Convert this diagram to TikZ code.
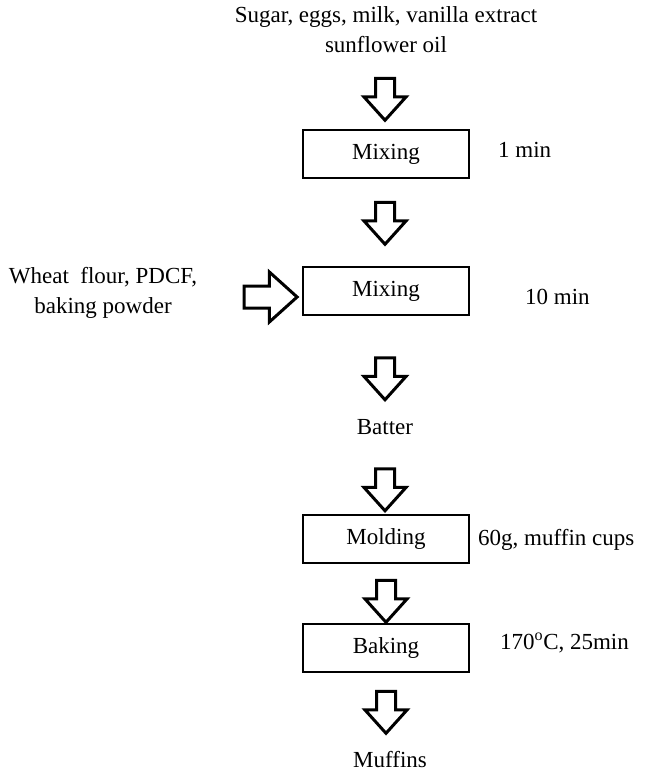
\documentclass[tikz,border=0pt]{standalone}
\usepackage{fontspec}
\setmainfont{Liberation Serif}
\usetikzlibrary{shapes.arrows}
\begin{document}
\begin{tikzpicture}[x=1pt,y=-1pt,
  txt/.style={font=\fontsize{23}{30}\selectfont, inner sep=0pt, align=center},
  stepbox/.style={draw, line width=1.9pt, minimum width=166pt, minimum height=48pt, inner sep=0pt, font=\fontsize{23}{30}\selectfont},
  darrow/.style={single arrow, draw, line width=3pt, shape border rotate=270, minimum height=42pt, inner sep=8pt, single arrow head extend=11.5pt, single arrow head indent=0pt, single arrow tip angle=84},
  rarrow/.style={single arrow, draw, line width=3pt, minimum height=53pt, inner sep=9.5pt, single arrow head extend=14pt, single arrow head indent=0pt, single arrow tip angle=84}]
\useasboundingbox (0,0) rectangle (646,775);

% inputs
\node[txt] (in1) at (386,30) {Sugar, eggs, milk, vanilla extract\\sunflower oil};
\node[txt] (in2) at (103,293) {Wheat\ \ flour, PDCF,\\baking powder};

% process boxes
\node[stepbox] (mix1) at (386,154) {Mixing};
\node[stepbox] (mix2) at (386,291) {Mixing};
\node[txt] (batter) at (385,427) {Batter};
\node[stepbox] (mold) at (386,539) {Molding};
\node[stepbox] (bake) at (386,648) {Baking};
\node[txt] (muffins) at (390,760) {Muffins};

% side labels
\node[txt, anchor=west] (t1) at (498,150) {1 min};
\node[txt, anchor=west] (t2) at (525,297) {10 min};
\node[txt, anchor=west] (t3) at (478,540) {60g, muffin cups};
\node[txt, anchor=west] (t4) at (500,643) {170\textsuperscript{o}C, 25min};

% block arrows
\node[darrow] (a1) at (385,94) {};
\node[darrow] (a2) at (385,218) {};
\node[darrow] (a3) at (385,373.5) {};
\node[darrow] (a4) at (385,484.5) {};
\node[darrow] (a5) at (386,596) {};
\node[darrow] (a6) at (386,707) {};
\node[rarrow] (ar) at (264.5,297) {};
\end{tikzpicture}
\end{document}
